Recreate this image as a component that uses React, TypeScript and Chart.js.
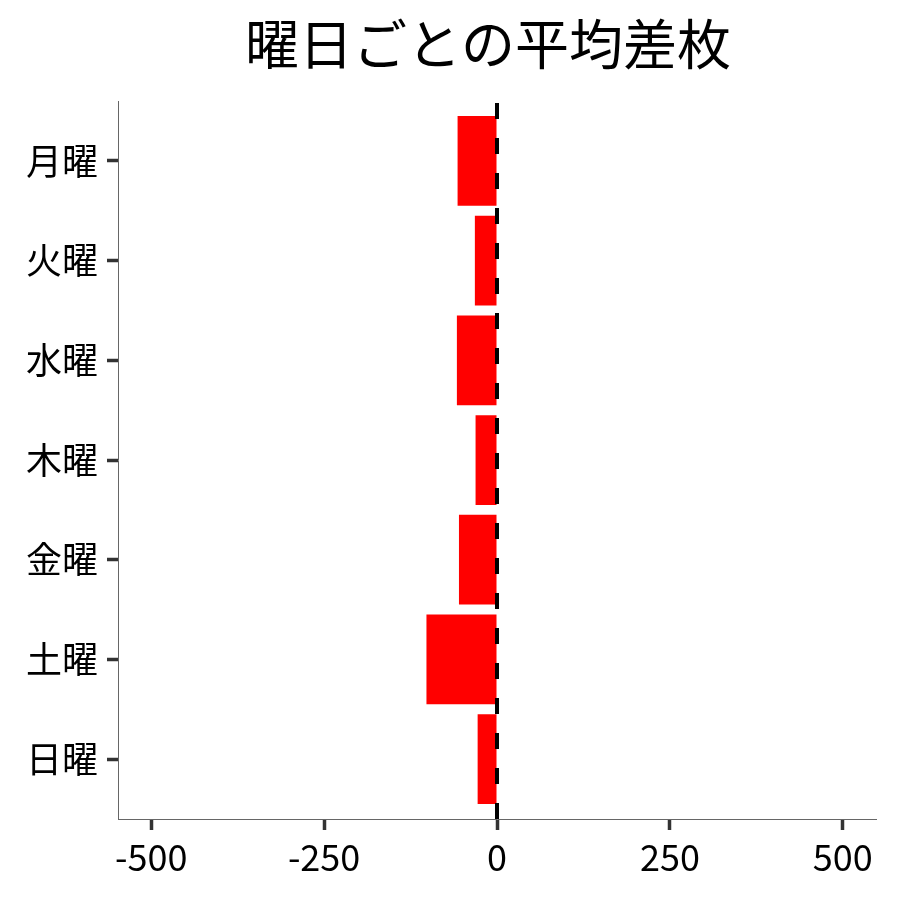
import { useEffect, useRef } from 'react';
import { Chart, registerables } from 'chart.js';

Chart.register(...registerables);

const days = ['月曜', '火曜', '水曜', '木曜', '金曜', '土曜', '日曜'];
const avgDiff = [-57, -32, -58, -31, -55, -102, -28];
const xTicks = [-500, -250, 0, 250, 500];
const titleText = '曜日ごとの平均差枚';

const FONT = "'Noto Sans CJK JP', 'Noto Sans', sans-serif";

// dashed reference line at x = 0
const zeroLine = {
  id: 'zeroLine',
  afterDatasetsDraw(chart: Chart) {
    const { ctx, chartArea, scales } = chart;
    const x = scales.x.getPixelForValue(0);
    ctx.save();
    ctx.strokeStyle = '#000';
    ctx.lineWidth = 4;
    ctx.setLineDash([16, 19]);
    ctx.beginPath();
    ctx.moveTo(x, chartArea.bottom);
    ctx.lineTo(x, chartArea.top);
    ctx.stroke();
    ctx.restore();
  },
};

// title drawn over the panel, a little left of centre like the original
const panelTitle = {
  id: 'panelTitle',
  afterDraw(chart: Chart) {
    const { ctx, chartArea } = chart;
    ctx.save();
    ctx.fillStyle = '#000';
    ctx.font = `54px ${FONT}`;
    ctx.textAlign = 'center';
    ctx.textBaseline = 'middle';
    ctx.fillText(titleText, (chartArea.left + chartArea.right) / 2 - 9, 44);
    ctx.restore();
  },
};

export default function App() {
  const chartRef = useRef<HTMLCanvasElement>(null);
  const chartInstance = useRef<Chart | null>(null);

  useEffect(() => {
    document.body.style.margin = '0';
    if (!chartRef.current) return;
    const ctx = chartRef.current.getContext('2d');
    if (!ctx) return;

    chartInstance.current = new Chart(ctx, {
      type: 'bar',
      data: {
        datasets: [
          {
            data: avgDiff.map((v, i) => ({ x: v, y: i + 1 })),
            backgroundColor: '#ff0000',
            borderWidth: 0,
            barPercentage: 0.9,
            categoryPercentage: 1,
          },
        ],
      },
      options: {
        indexAxis: 'y',
        animation: false,
        responsive: true,
        maintainAspectRatio: false,
        layout: { padding: { top: 101, right: 24, bottom: 0, left: 0 } },
        plugins: {
          legend: { display: false },
          tooltip: { enabled: false },
          title: { display: false },
        },
        scales: {
          x: {
            type: 'linear',
            min: -548,
            max: 548,
            afterFit: (scale: any) => {
              scale.height = 81;
            },
            afterBuildTicks: (scale: any) => {
              scale.ticks = xTicks.map((v) => ({ value: v }));
            },
            ticks: {
              color: '#000',
              font: { family: FONT, size: 36 },
              padding: 6,
              callback: (v: any) => String(v),
            },
            grid: {
              drawOnChartArea: false,
              drawTicks: true,
              tickLength: 11,
              tickWidth: 3.5,
              tickColor: '#333',
            },
            border: { display: true, color: '#666', width: 1 },
          },
          y: {
            type: 'linear',
            reverse: true,
            offset: false,
            min: 0.4,
            max: days.length + 0.6,
            afterFit: (scale: any) => {
              scale.width = 118;
            },
            afterBuildTicks: (scale: any) => {
              scale.ticks = days.map((_, i) => ({ value: i + 1 }));
            },
            ticks: {
              color: '#000',
              font: { family: FONT, size: 36 },
              padding: 9,
              callback: (v: any) => days[Number(v) - 1] ?? '',
            },
            grid: {
              offset: false,
              drawOnChartArea: false,
              drawTicks: true,
              tickLength: 11,
              tickWidth: 3.5,
              tickColor: '#333',
            },
            border: { display: true, color: '#666', width: 1 },
          },
        },
      },
      plugins: [zeroLine, panelTitle],
    });

    return () => {
      if (chartInstance.current) {
        chartInstance.current.destroy();
      }
    };
  }, []);

  return (
    <div style={{ width: 900, height: 900, background: '#fff' }}>
      <canvas ref={chartRef} />
    </div>
  );
}
